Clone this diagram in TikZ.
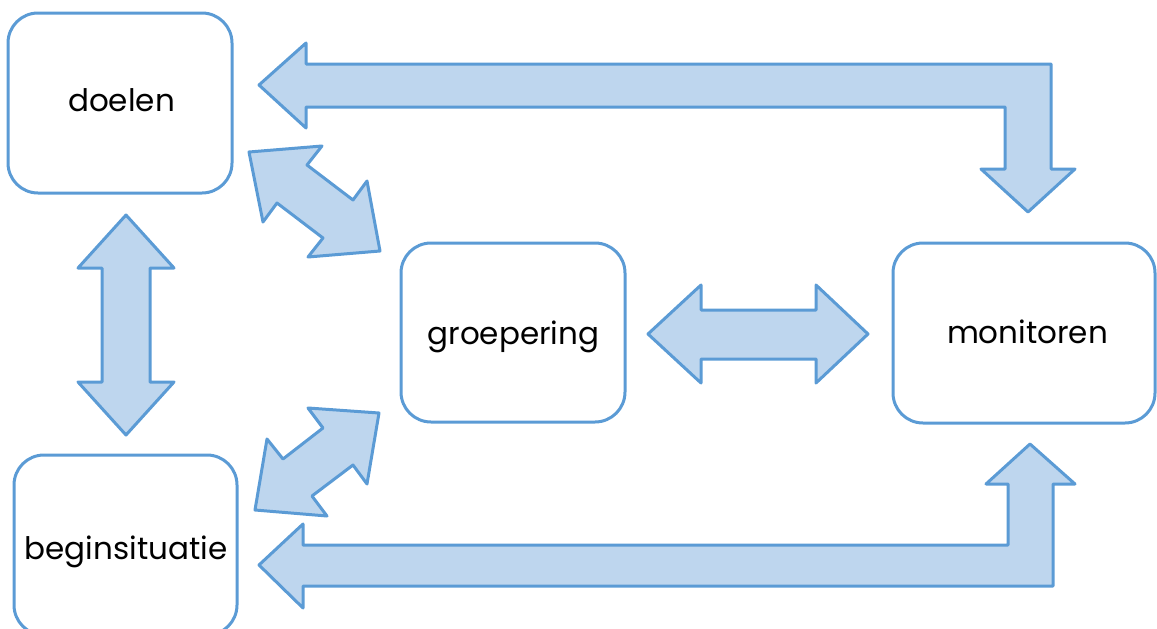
\documentclass[tikz,border=0pt]{standalone}
\usepackage{fontspec}
\setmainfont{Poppins}
\definecolor{edgeblue}{HTML}{5B9BD5}
\definecolor{fillblue}{HTML}{BED6EE}
\begin{document}
\begin{tikzpicture}[x=1pt,y=-1pt,
  box/.style={draw=edgeblue, line width=3pt, rounded corners=30pt, fill=white},
  lbl/.style={anchor=base, inner sep=0pt, font=\fontsize{31}{37}\selectfont, text=black},
  blockarrow/.style={draw=edgeblue, fill=fillblue, line width=3pt, line join=round}]
\useasboundingbox (0,0) rectangle (1157,629);
\clip (0,0) rectangle (1157,629);
% boxes
\draw[box] (8,13) rectangle (232,193);
\node[inner sep=0pt, minimum width=224pt, minimum height=180pt] (doelen) at (120,103) {};
\draw[box] (14,455) rectangle (237,635);
\node[inner sep=0pt, minimum width=223pt, minimum height=180pt] (begin) at (125.5,545) {};
\draw[box] (401,243) rectangle (625,422);
\node[inner sep=0pt, minimum width=224pt, minimum height=179pt] (groep) at (513,332.5) {};
\draw[box] (893,243) rectangle (1155,423);
\node[inner sep=0pt, minimum width=262pt, minimum height=180pt] (monitor) at (1024,333) {};
% labels
\node[lbl] (tdoelen) at (121.5,111) {doelen};
\node[lbl] (tbegin) at (126,559) {beginsituatie};
\node[lbl] (tgroep) at (513.5,344) {groepering};
\node[lbl] (tmonitor) at (1027.5,343) {monitoren};
% block arrows
\draw[blockarrow] (259,85) -- (306,43) -- (306,64) -- (1051,64) -- (1051,169) -- (1075,169)
  -- (1028,212) -- (981,169) -- (1005,169) -- (1005,107) -- (306,107) -- (306,128) -- cycle;
\draw[blockarrow] (259,565) -- (303,524) -- (303,545) -- (1008,545) -- (1008,484) -- (986,484)
  -- (1030,444) -- (1075,484) -- (1053,484) -- (1053,586) -- (303,586) -- (303,608) -- cycle;
\draw[blockarrow] (126,215) -- (174,268) -- (150,268) -- (150,382) -- (174,382) -- (126,435)
  -- (78,382) -- (102,382) -- (102,268) -- (78,268) -- cycle;
\draw[blockarrow] (648,334) -- (701,285) -- (701,310) -- (816,310) -- (816,285) -- (868,334)
  -- (816,383) -- (816,359) -- (701,359) -- (701,383) -- cycle;
\draw[blockarrow] (249,152) -- (322,146) -- (307,165) -- (353,200) -- (367,181) -- (380,251)
  -- (308,257) -- (323,238) -- (277,203) -- (263,222) -- cycle;
\draw[blockarrow] (379,413) -- (308,408) -- (323,428) -- (283,459) -- (267,439) -- (255,510)
  -- (327,516) -- (312,496) -- (353,465) -- (367,484) -- cycle;
\end{tikzpicture}
\end{document}
